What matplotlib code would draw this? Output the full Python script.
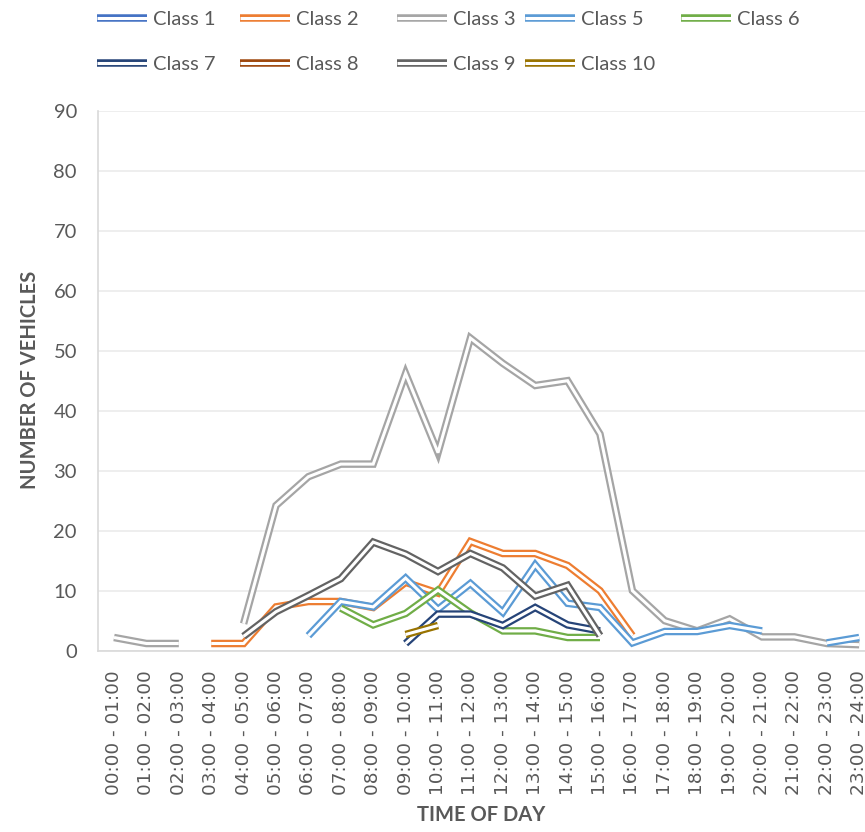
import numpy as np
import matplotlib
matplotlib.use("Agg")
import matplotlib.pyplot as plt
import matplotlib.patheffects as pe
from matplotlib.lines import Line2D

nan = np.nan
hours = [f"{h:02d}:00 - {h+1:02d}:00" for h in range(24)]

class_1 = [nan] * 24
class_2 = [nan, nan, nan, 1.2, 1.2, 7.3, 8.2, 8.2, 7.2, 11.4, 9.6, 18.2,
           16.2, 16.2, 14.2, 10.0, 2.5, nan, nan, nan, nan, nan, nan, nan]
class_3 = [2.2, 1.2, 1.2, nan, 4.5, 24.2, 29.0, 31.1, 31.1, 46.2, 33.0, 52.1,
           47.9, 44.2, 45.0, 36.1, 10.0, 5.0, 3.3, 5.3, 2.3, 2.3, 1.2, 1.0]
class_5 = [nan, nan, nan, nan, nan, nan, 2.5, 8.2, 7.3, 12.1, 6.9, 11.2,
           6.4, 14.3, 7.9, 7.2, 1.3, 3.2, 3.2, 4.2, 3.3, nan, 1.3, 2.2]
class_6 = [nan, nan, nan, nan, nan, nan, nan, 7.1, 4.3, 6.2, 10.1, 6.3,
           3.3, 3.3, 2.2, 2.2, nan, nan, nan, nan, nan, nan, nan, nan]
class_7 = [nan, nan, nan, nan, nan, nan, nan, nan, nan, 1.2, 6.1, 6.1,
           4.2, 7.2, 4.3, 3.3, nan, nan, nan, nan, nan, nan, nan, nan]
class_8 = [nan] * 24
class_9 = [nan, nan, nan, nan, 2.4, 6.5, 9.2, 12.0, 18.1, 16.1, 13.2, 16.2,
           13.8, 9.1, 10.9, 2.5, nan, nan, nan, nan, nan, nan, nan, nan]
class_10 = [nan, nan, nan, nan, nan, nan, nan, nan, nan, 2.7, 4.2, nan,
            nan, nan, nan, nan, nan, nan, nan, nan, nan, nan, nan, nan]

series_names = ["Class 1", "Class 2", "Class 3", "Class 5", "Class 6",
                "Class 7", "Class 8", "Class 9", "Class 10"]
series_values = [class_1, class_2, class_3, class_5, class_6,
                 class_7, class_8, class_9, class_10]
colors = ["#4472C4", "#ED7D31", "#A5A5A5", "#5B9BD5", "#70AD47",
          "#264478", "#9E480E", "#636363", "#997300"]

W, H = 865, 832
fig = plt.figure(figsize=(W / 100, H / 100), dpi=100)
left_px, right_px = 97.8, 875.4
top_px, bot_px = 110.7, 650.7
ax = fig.add_axes([left_px / W, 1 - bot_px / H, (right_px - left_px) / W, (bot_px - top_px) / H])

x = np.arange(24)
OUTER, INNER = 5.4, 2.2
TXT = "#595959"


def double_fx(c):
    return [pe.Stroke(linewidth=OUTER, foreground=c), pe.Normal()]


for name, vals, c in zip(series_names, series_values, colors):
    ax.plot(x, vals, color="white", lw=INNER, solid_joinstyle="miter",
            solid_capstyle="butt", path_effects=double_fx(c), zorder=3)

ax.set_xlim(-0.5, 23.5)
ax.set_ylim(0, 90)
ax.set_yticks(np.arange(0, 91, 10))
ax.grid(axis="y", color="#EBEBEB", lw=1.2)
ax.set_axisbelow(True)
for s in ["top", "right"]:
    ax.spines[s].set_visible(False)
for s in ["left", "bottom"]:
    ax.spines[s].set_color("#D9D9D9")
    ax.spines[s].set_linewidth(1.2)
ax.tick_params(axis="both", length=0, colors=TXT)
ax.tick_params(axis="y", labelsize=14.5, pad=15)
for t in ax.get_yticklabels():
    t.set_fontfamily("Lato")
ax.set_xticks(x)
ax.set_xticklabels(hours, rotation=90, fontsize=13.3, family="DejaVu Sans",
                   color=TXT)
ax.tick_params(axis="x", pad=14)

fig.text(30 / W, 1 - 380 / H, "NUMBER OF VEHICLES", rotation=90, ha="center",
         va="center", fontsize=14.5, fontweight="bold", color=TXT,
         family="Lato")
fig.text(481 / W, 1 - 815 / H, "TIME OF DAY", ha="center", va="center",
         fontsize=14.5, fontweight="bold", color=TXT, family="Lato")

# legend entries laid out as in the reference (row-major, two rows)
col_x = [97, 240, 397, 525, 681]
row_y = [18, 63]
for i, (name, c) in enumerate(zip(series_names, colors)):
    r, k = (0, i) if i < 5 else (1, i - 5)
    x0, y0 = col_x[k], row_y[r]
    ln = Line2D([x0 / W, (x0 + 50) / W], [1 - y0 / H, 1 - y0 / H],
                transform=fig.transFigure, color="white", lw=INNER,
                solid_capstyle="butt", path_effects=double_fx(c))
    fig.add_artist(ln)
    fig.text((x0 + 56) / W, 1 - y0 / H, name, ha="left", va="center_baseline",
             fontsize=14.5, color=TXT, family="Lato")

fig.savefig("out.png", dpi=100)
